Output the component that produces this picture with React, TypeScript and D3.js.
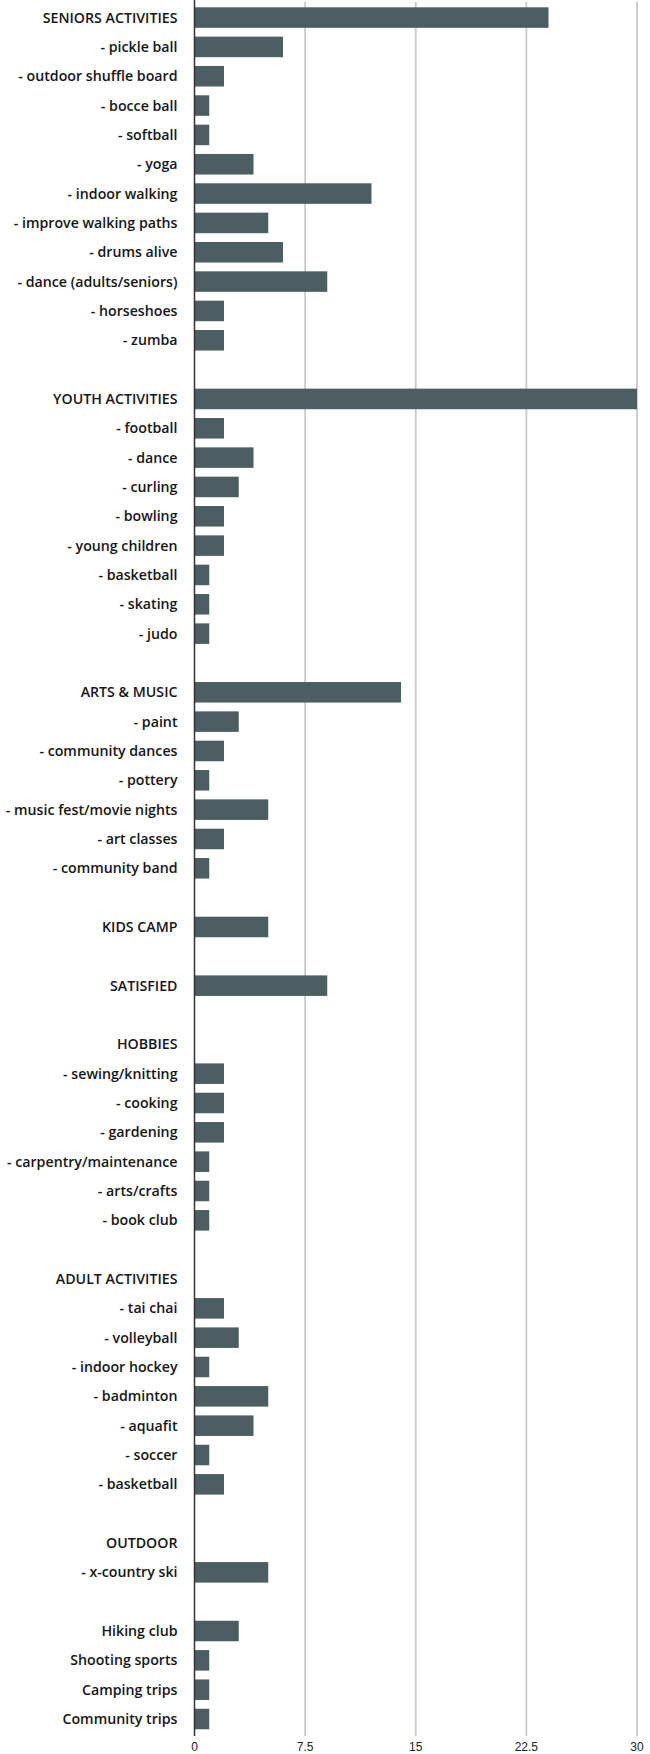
import React from "react";
import * as d3 from "d3";

const categories: string[] = [
  "SENIORS ACTIVITIES", "- pickle ball", "- outdoor shuffle board", "- bocce ball", "- softball", "- yoga",
  "- indoor walking", "- improve walking paths", "- drums alive", "- dance (adults/seniors)", "- horseshoes", "- zumba", "",
  "YOUTH ACTIVITIES", "- football", "- dance", "- curling", "- bowling", "- young children", "- basketball", "- skating", "- judo", "",
  "ARTS & MUSIC", "- paint", "- community dances", "- pottery", "- music fest/movie nights", "- art classes", "- community band", "",
  "KIDS CAMP", "",
  "SATISFIED", "",
  "HOBBIES", "- sewing/knitting", "- cooking", "- gardening", "- carpentry/maintenance", "- arts/crafts", "- book club", "",
  "ADULT ACTIVITIES", "- tai chai", "- volleyball", "- indoor hockey", "- badminton", "- aquafit", "- soccer", "- basketball", "",
  "OUTDOOR", "- x-country ski", "",
  "Hiking club", "Shooting sports", "Camping trips", "Community trips",
];

const values: number[] = [
  24, 6, 2, 1, 1, 4, 12, 5, 6, 9, 2, 2, 0,
  30, 2, 4, 3, 2, 2, 1, 1, 1, 0,
  14, 3, 2, 1, 5, 2, 1, 0,
  5, 0,
  9, 0,
  0, 2, 2, 2, 1, 1, 1, 0,
  0, 2, 3, 1, 5, 4, 1, 2, 0,
  0, 5, 0,
  3, 1, 1, 1,
];

const tickValues: number[] = [0, 7.5, 15, 22.5, 30];
const tickLabels: string[] = ["0", "7.5", "15", "22.5", "30"];

const W = 650;
const H = 1754;
const X0 = 194.5;
const X1 = 637;
const Y0 = 2.9;
const Y1 = 1733.7;

export default function App() {
  const ids = categories.map((_, i) => String(i));
  const x = d3.scaleLinear().domain([0, 30]).range([X0, X1]);
  const y = d3.scaleBand<string>().domain(ids).range([Y0, Y1]).paddingInner(0.3).paddingOuter(0.15);
  const bw = y.bandwidth();

  return (
    <svg
      width={W}
      height={H}
      style={{ position: "absolute", left: 0, top: 0, background: "#fff" }}
      fontFamily="'Open Sans', sans-serif"
    >
      {tickValues.slice(1).map((t) => (
        <line key={"g" + t} x1={x(t)} x2={x(t)} y1={2} y2={1736} stroke="#c9c9c9" strokeWidth={1.8} />
      ))}
      {values.map((v, i) =>
        categories[i] !== "" && v > 0 ? (
          <rect key={"b" + i} x={x(0)} y={y(ids[i])!} width={x(v) - x(0)} height={bw} fill="#4b5e61" />
        ) : null
      )}
      <line x1={X0} x2={X0} y1={0} y2={1736} stroke="#333" strokeWidth={1.5} />
      {categories.map((c, i) =>
        c ? (
          <text
            key={"l" + i}
            x={X0 - 17}
            y={y(ids[i])! + bw / 2}
            dy="0.35em"
            textAnchor="end"
            fontSize={14.2}
            fontWeight={600}
            fill="#161616"
          >
            {c}
          </text>
        ) : null
      )}
      {tickValues.map((t, i) => (
        <text
          key={"t" + t}
          x={x(t)}
          y={1751}
          textAnchor="middle"
          fontSize={12}
          fontFamily="'Liberation Sans', Arial, sans-serif"
          fill="#222"
        >
          {tickLabels[i]}
        </text>
      ))}
    </svg>
  );
}
